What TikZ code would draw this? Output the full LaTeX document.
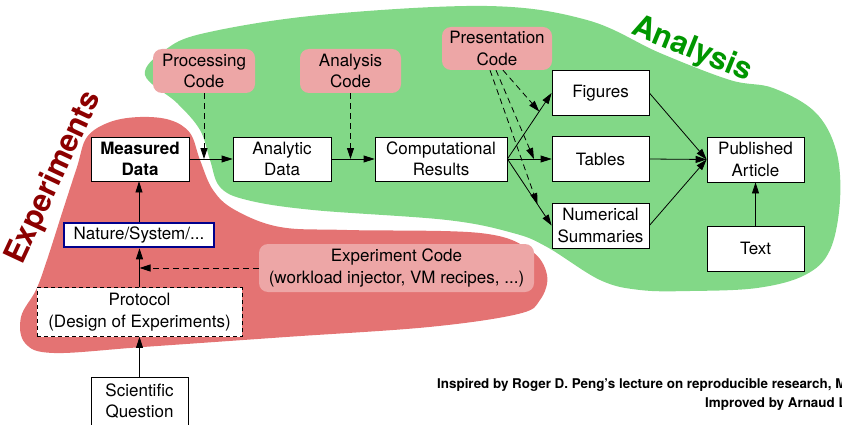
\documentclass[tikz,border=0pt]{standalone}
\usepackage{fontspec}
\setmainfont{TeX Gyre Heros}
\usetikzlibrary{arrows.meta,calc}
\definecolor{gblob}{RGB}{130,216,135}
\definecolor{rblob}{RGB}{228,115,115}
\definecolor{pinkbox}{RGB}{237,166,166}
\definecolor{expred}{RGB}{140,0,0}
\definecolor{anagreen}{RGB}{0,150,0}
\definecolor{natblue}{RGB}{0,0,140}
\newcommand\nf{\fontsize{17}{21.5}\selectfont}
\begin{document}
\begin{tikzpicture}[x=1pt,y=-1pt,
  box/.style={draw, fill=white, line width=0.8pt, align=center, inner sep=0pt,
    minimum width=97pt, minimum height=44pt, font=\nf},
  codebox/.style={fill=pinkbox, rounded corners=9pt, align=center, inner sep=0pt,
    minimum height=44pt, font=\nf},
  arr/.style={-{Triangle[length=11pt,width=7pt]}, line width=0.8pt},
  darr/.style={arr, dash pattern=on 6pt off 4pt}]
\useasboundingbox (0,0) rectangle (842,425);
% blobs
\fill[gblob] plot[smooth cycle, tension=0.6] coordinates {
 (145,75) (165,50) (205,33) (320,15) (487,6) (587,20) (660,53) (730,80) (773,88)
 (815,112) (836,150) (840,200) (830,250) (805,275) (757,288) (690,291) (640,290)
 (600,280) (547,247) (513,233) (447,220) (313,210) (247,200) (220,187) (210,160)
 (200,130) (177,103)};
\fill[rblob] plot[smooth cycle, tension=0.6] coordinates {
 (87,137) (110,122) (140,117) (170,120) (190,133) (200,160) (213,190) (235,210)
 (280,227) (347,230) (480,233) (530,250) (547,275) (540,300) (518,314) (429,327)
 (286,337) (143,347) (54,353) (25,343) (21,317) (36,290) (47,260) (63,210) (77,167)};
% labels
\node[rotate=65, text=expred, font=\fontsize{31}{31}\selectfont\bfseries] (explbl) at (54,178) {Experiments};
\node[rotate=-22, text=anagreen, font=\fontsize{31}{31}\selectfont\bfseries] (analbl) at (692,50) {Analysis};
% nodes
\node[box, font=\nf\bfseries, minimum width=98pt] (meas) at (140,159) {Measured\\Data};
\node[box, minimum width=98pt] (ana) at (282,159) {Analytic\\Data};
\node[box, minimum width=132pt] (comp) at (441,159) {Computational\\Results};
\node[box, minimum height=45pt] (fig) at (600.5,93) {Figures};
\node[box, minimum height=45pt] (tab) at (600.5,159) {Tables};
\node[box, minimum height=45pt] (num) at (600.5,225.5) {Numerical\\Summaries};
\node[box, minimum height=45pt] (pub) at (755.5,159.5) {Published\\Article};
\node[box, minimum height=45pt] (txt) at (755.5,248.5) {Text};
\node[codebox, minimum width=102pt] (proc) at (204,71) {Processing\\Code};
\node[codebox, minimum width=101pt] (anac) at (350.5,71) {Analysis\\Code};
\node[codebox, minimum width=110pt, minimum height=43pt] (pres) at (497,48.5) {Presentation\\Code};
\node[box, draw=natblue, line width=2.6pt, minimum width=150pt, minimum height=24pt] (nat) at (139,235) {Nature/System/...};
\node[codebox, minimum width=275pt, minimum height=48pt] (exp) at (396.5,268) {Experiment Code\\(workload injector, VM recipes, ...)};
\node[box, dash pattern=on 4pt off 3pt, minimum width=205pt, minimum height=49pt] (prot) at (139.5,312) {Protocol\\(Design of Experiments)};
\node[box, minimum height=48pt] (sq) at (139.5,401) {Scientific\\Question};
% credits
\node[anchor=west, inner sep=0pt, font=\fontsize{13.4}{16}\selectfont\bfseries] (cred1) at (437,385) {Inspired by Roger D. Peng's lecture on reproducible research, M};
\node[anchor=west, inner sep=0pt, font=\fontsize{13.4}{16}\selectfont\bfseries] (cred2) at (705,404) {Improved by Arnaud L};
% connectors
\draw[arr] (meas) -- (ana);
\draw[darr] (proc.south) -- (proc.south |- meas.east);
\draw[arr] (ana) -- (comp);
\draw[darr] (anac.south) -- (anac.south |- ana.east);
\draw[arr] (comp.east) -- (fig.west);
\draw[arr] (comp.east) -- (tab.west);
\draw[arr] (comp.east) -- (num.west);
\coordinate (p1) at ($(comp.east)!0.72!(fig.west)$);
\coordinate (p2) at ($(comp.east)!0.6!(tab.west)$);
\coordinate (p3) at ($(comp.east)!0.68!(num.west)$);
\draw[darr] ($(pres.south)+(6,0)$) -- (p1);
\draw[darr] ($(pres.south)+(-1,0)$) -- (p2);
\draw[darr] ($(pres.south)+(-7,0)$) -- (p3);
\draw[arr] (fig.east) -- (pub.west);
\draw[arr] (tab.east) -- (pub.west);
\draw[arr] (num.east) -- (pub.west);
\draw[arr] (txt) -- (pub);
\draw[arr] (nat.north) -- (nat.north |- meas.south);
\draw[arr] (prot.north) -- (prot.north |- nat.south);
\draw[darr] (exp.west) -- (exp.west -| prot.north);
\draw[arr] (sq.north) -- (prot.south);
\end{tikzpicture}
\end{document}
